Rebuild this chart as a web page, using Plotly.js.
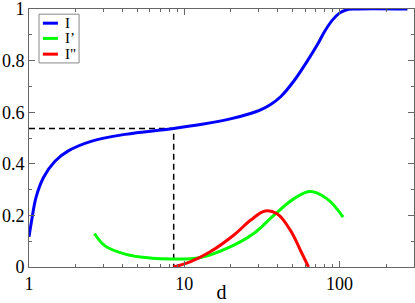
<!DOCTYPE html>
<html>
<head>
<meta charset="utf-8">
<script src="https://cdn.plot.ly/plotly-3.0.1.min.js"></script>
<style>html,body{margin:0;padding:0;background:#fff}#chart{width:415px;height:303px}</style>
</head>
<body>
<div id="chart"></div>
<script>
// I
var iX = [1, 1.04, 1.11, 1.24, 1.47, 1.79, 2.54, 4.16, 8.3, 13.3, 19.8, 26.7, 31, 36, 41.6, 50.7, 61.7, 71.8, 80, 90, 100, 110, 125, 274];
var iY = [0.117, 0.18, 0.27, 0.347, 0.41, 0.45, 0.488, 0.514, 0.536, 0.554, 0.574, 0.595, 0.609, 0.63, 0.659, 0.72, 0.796, 0.86, 0.912, 0.957, 0.984, 0.996, 1.0, 1.0];
// I'
var i1X = [2.64, 3.09, 4.16, 6.2, 8.3, 12.7, 18.8, 28, 37.7, 50.7, 65, 83.3, 105.6];
var i1Y = [0.13, 0.082, 0.05, 0.034, 0.031, 0.037, 0.072, 0.13, 0.2, 0.264, 0.293, 0.264, 0.193];
// I''
var i2X = [8.53, 10.9, 14.7, 20.8, 26.7, 33.3, 39.6, 48.3, 56, 63.2];
var i2Y = [0, 0.02, 0.059, 0.123, 0.181, 0.217, 0.206, 0.142, 0.065, 0];
// dashed guide
var dashX = [1, 8.55, 8.55];
var dashY = [0.537, 0.537, 0];
// y tick labels
var yTickVals = [0, 0.2, 0.4, 0.6, 0.8, 1];
var yTickText = ["0", "0.2", "0.4", "0.6", "0.8", "1"];
// legend labels
var names = ["I", "I’", "I\""];
var colors = ["#0000ff", "#00ff00", "#ff0000"];

var font = "Liberation Serif, Times New Roman, serif";

var traces = [
  {x: dashX, y: dashY, mode: "lines", line: {color: "#000", width: 1.5, dash: "6px,4px"}, showlegend: false, hoverinfo: "skip"},
  {x: i1X, y: i1Y, mode: "lines", line: {color: colors[1], width: 3, shape: "spline", smoothing: 1.1}, name: names[1], showlegend: false},
  {x: i2X, y: i2Y, mode: "lines", line: {color: colors[2], width: 3, shape: "spline", smoothing: 1.1}, name: names[2], showlegend: false},
  {x: iX, y: iY, mode: "lines", line: {color: colors[0], width: 3, shape: "spline", smoothing: 1.1}, name: names[0], showlegend: false}
];

// plot area spans 9..267 px vertically
var shapes = [{type: "rect", xref: "paper", yref: "paper", x0: 0.026, x1: 0.13, y0: 0.791, y1: 0.98,
  line: {color: "#888", width: 1}, fillcolor: "#fff", layer: "above"}];
var annotations = [];
var ly = [0.945, 0.886, 0.825];
for (var k = 0; k < 3; k++) {
  shapes.push({type: "line", xref: "paper", yref: "paper", x0: 0.036, x1: 0.075, y0: ly[k], y1: ly[k],
    line: {color: colors[k], width: 3}, layer: "above"});
  annotations.push({xref: "paper", yref: "paper", x: 0.09, y: ly[k], text: names[k], showarrow: false,
    xanchor: "left", yanchor: "middle", borderpad: 0,
    font: {family: font, size: 15, color: "#000"}});
}

var axCommon = {
  showgrid: false, zeroline: false, showline: true, linecolor: "#666", linewidth: 1,
  mirror: "allticks", ticks: "inside", ticklen: 6, tickcolor: "#666", tickwidth: 1,
  ticklabeloverflow: "allow",
  tickfont: {family: font, size: 18, color: "#000"}
};

var layout = {
  width: 415, height: 303,
  margin: {l: 29, r: 1, t: 9, b: 36},
  paper_bgcolor: "#fff", plot_bgcolor: "#fff",
  showlegend: false,
  xaxis: Object.assign({}, axCommon, {
    type: "log", range: [0, 2.48], dtick: 1,
    minor: {ticks: "inside", ticklen: 3, tickcolor: "#666", dtick: "D1", showgrid: false},
    title: {text: "d", font: {family: font, size: 20, color: "#000"}, standoff: 2}
  }),
  yaxis: Object.assign({}, axCommon, {
    range: [0, 1], tickmode: "array", tickvals: yTickVals, ticktext: yTickText,
    minor: {ticks: "inside", ticklen: 3, tickcolor: "#666", dtick: 0.1, showgrid: false}
  }),
  shapes: shapes,
  annotations: annotations
};

Plotly.newPlot("chart", traces, layout, {staticPlot: true, displayModeBar: false});
</script>
</body>
</html>
